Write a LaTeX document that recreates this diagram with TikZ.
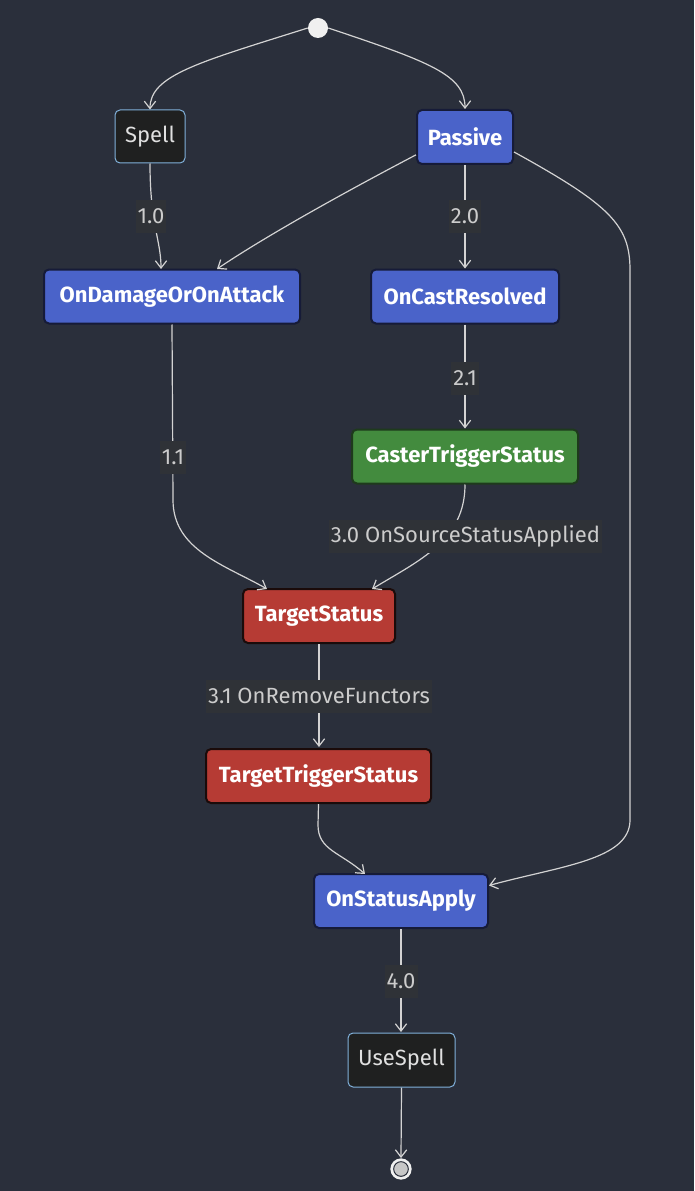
\documentclass[tikz,border=0pt]{standalone}
\usepackage{fontspec}
\setmainfont{Fira Sans}
\usetikzlibrary{arrows.meta}
\definecolor{bg}{HTML}{2A2F3B}
\definecolor{bluef}{HTML}{4A63C9}
\definecolor{blued}{HTML}{161B38}
\definecolor{greenf}{HTML}{438B3E}
\definecolor{greend}{HTML}{1E3A1C}
\definecolor{redf}{HTML}{B63B34}
\definecolor{redd}{HTML}{1A0B0A}
\definecolor{darkf}{HTML}{1F2020}
\definecolor{lightb}{HTML}{81B1DB}
\definecolor{edge}{HTML}{D3D3D3}
\definecolor{lblbg}{HTML}{2F3237}
\definecolor{lbltext}{HTML}{CCCCCC}
\tikzset{
  box/.style={rounded corners=3.75pt, inner sep=0pt, font=\fontsize{16.5}{19}\selectfont\bfseries, text=white, minimum height=40.5pt},
  bluebox/.style={box, fill=bluef, draw=blued, line width=1.5pt},
  greenbox/.style={box, fill=greenf, draw=greend, line width=1.5pt},
  redbox/.style={box, fill=redf, draw=redd, line width=1.5pt},
  plainbox/.style={box, font=\fontsize{16.5}{19}\selectfont, text=white!88!black, fill=darkf, draw=lightb, line width=0.75pt},
  conn/.style={draw=edge, line width=0.9pt, -{Straight Barb[length=5.5pt,width=8.5pt,line width=0.9pt]}},
  elabel/.style={fill=lblbg, text=lbltext, font=\fontsize{16.5}{19}\selectfont, inner sep=1.5pt, minimum height=24.75pt}
}
\begin{document}
\begin{tikzpicture}[x=0.75pt,y=-0.75pt]
\fill[bg] (0,0) rectangle (694,1191);
\useasboundingbox (0,0) rectangle (694,1191);
% nodes
\node[circle, fill=white!94!black, minimum size=15pt, inner sep=0pt] (start) at (318,28) {};
\node[plainbox, minimum width=52.5pt, minimum height=39.75pt] (spell) at (150,136.5) {Spell};
\node[bluebox, minimum width=72pt] (passive) at (465,137) {Passive};
\node[bluebox, minimum width=192pt] (ondmg) at (172,296.5) {OnDamageOrOnAttack};
\node[bluebox, minimum width=141pt] (oncast) at (465,296.5) {OnCastResolved};
\node[greenbox, minimum width=169.5pt] (caster) at (465,456.5) {CasterTriggerStatus};
\node[redbox, minimum width=114pt] (tstatus) at (319,616) {TargetStatus};
\node[redbox, minimum width=168.75pt] (ttrigger) at (318.5,776) {TargetTriggerStatus};
\node[bluebox, minimum width=130.5pt] (onapply) at (401,901) {OnStatusApply};
\node[plainbox, minimum width=80.25pt] (usespell) at (401.5,1060) {UseSpell};
\node[circle, fill=white!94!black, minimum size=16pt, inner sep=0pt] (end) at (401,1169) {};
\node[circle, fill=white!78!black, draw=bg, line width=0.75pt, minimum size=11pt, inner sep=0pt] (endin) at (401,1169) {};
% connectors
\draw[conn] (start.west) .. controls (200,62) and (150,75) .. (spell.north);
\draw[conn] (start.east) .. controls (430,62) and (465,75) .. (passive.north);
\draw[conn] (spell.south) .. controls (150,225) and (161,240) .. (161,269);
\draw[conn] (passive.-160) .. controls (330,200) and (260,240) .. (217,269);
\draw[conn] (passive.south) -- (oncast.north);
\draw[conn] (passive.-17) .. controls (610,205) and (630,225) .. (630,270) -- (630,820) .. controls (630,860) and (560,866) .. (onapply.10);
\draw[conn] (oncast.south) -- (caster.north);
\draw[conn] (ondmg.south) -- (173,500) .. controls (173,550) and (225,565) .. (267,589);
\draw[conn] (caster.south) .. controls (465,540) and (420,560) .. (372,589);
\draw[conn] (tstatus.south) -- (319,747);
\draw[conn] (ttrigger.south) -- (318,825) .. controls (318,850) and (340,852) .. (365,874);
\draw[conn] (onapply.south) -- (401,1032);
\draw[conn] (usespell.south) -- (end.north);
% edge labels
\node[elabel] (l10) at (151,216.5) {1.0};
\node[elabel] (l20) at (465,216.5) {2.0};
\node[elabel] (l21) at (465,378) {2.1};
\node[elabel] (l11) at (173,457) {1.1};
\node[elabel] (l30) at (465.5,536) {3.0 OnSourceStatusApplied};
\node[elabel] (l31) at (319,696) {3.1 OnRemoveFunctors};
\node[elabel] (l40) at (401,981) {4.0};
\end{tikzpicture}
\end{document}
